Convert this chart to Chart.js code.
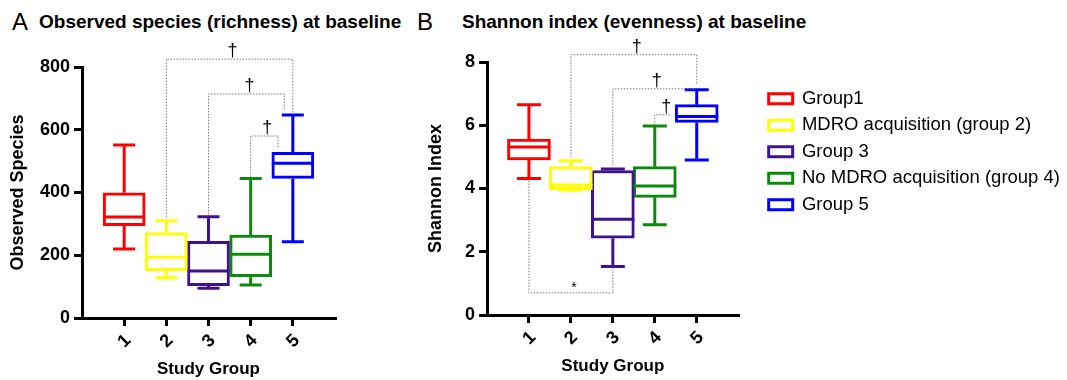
<!DOCTYPE html>
<html>
<head>
<meta charset="utf-8">
<script src="https://cdn.jsdelivr.net/npm/chart.js@4"></script>
<style>
body { margin: 0; background: #fff; width: 1067px; height: 380px; overflow: hidden; position: relative;
       font-family: "Liberation Sans", Arial, Helvetica, sans-serif; color: #000; }
.panel { position: absolute; top: 0; }
.letter { position: absolute; font-size: 24px; line-height: 24px; top: 10px; }
.title { position: absolute; font-size: 19px; line-height: 19px; top: 12px; font-weight: bold; white-space: nowrap; }
</style>
</head>
<body>
<div class="letter" style="left:12px">A</div>
<div class="title" style="left:39px">Observed species (richness) at baseline</div>
<div class="letter" style="left:417px">B</div>
<div class="title" style="left:462px">Shannon index (evenness) at baseline</div>
<canvas id="chartA" class="panel" style="left:0" width="400" height="380"></canvas>
<canvas id="chartB" class="panel" style="left:400px" width="670" height="380"></canvas>
<script>
Chart.defaults.font.family = "'Liberation Sans', Arial, Helvetica, sans-serif";
Chart.defaults.color = '#000';

// study groups
var groups = ['1', '2', '3', '4', '5'];
var groupNames = ['Group1', 'MDRO acquisition (group 2)', 'Group 3', 'No MDRO acquisition (group 4)', 'Group 5'];
var groupColors = ['#ff0000', '#ffff00', '#40128f', '#0c8a0c', '#0000ff'];

// A: observed species (min, q1, median, q3, max)
var obsMin = [220, 128, 95, 105, 243];
var obsQ1 = [294, 151, 103, 132, 445];
var obsMed = [322, 194, 150, 203, 493];
var obsQ3 = [399, 272, 244, 264, 528];
var obsMax = [551, 310, 323, 445, 647];

// B: shannon index
var shMin = [4.32, 3.95, 1.53, 2.85, 4.90];
var shQ1 = [4.90, 3.96, 2.43, 3.72, 6.09];
var shMed = [5.31, 4.11, 3.03, 4.08, 6.28];
var shQ3 = [5.56, 4.69, 4.57, 4.69, 6.65];
var shMax = [6.65, 4.88, 4.62, 5.98, 7.12];

// significance brackets: x1/x2 groups, y bar level, y1/y2 leg ends
var obsBrackets = [
    { x1: 2, x2: 5, y: 825, y1: 322, y2: 656, label: '\u2020' },
    { x1: 3, x2: 4.8, y: 714, y1: 330, y2: 663, label: '\u2020' },
    { x1: 4, x2: 4.65, y: 580, y1: 450, y2: 545, label: '\u2020' }
];
var shBrackets = [
    { x1: 2, x2: 5, y: 8.23, y1: 5.0, y2: 7.3, label: '\u2020' },
    { x1: 3, x2: 4.95, y: 7.15, y1: 4.75, y2: 7.12, label: '\u2020' },
    { x1: 4, x2: 4.4, y: 6.33, y1: 6.0, y2: 6.33, label: '\u2020' },
    { x1: 1, x2: 3, y: 0.7, y1: 4.25, y2: 1.45, label: '*' }
];

// whiskers, medians and brackets on top of the floating bars
var boxPlot = {
    id: 'boxPlot',
    afterDatasetsDraw: function (chart, args, opts) {
        var ctx = chart.ctx;
        var xs = chart.scales.x, ys = chart.scales.y;
        ctx.save();
        ctx.lineWidth = 3;
        for (var i = 0; i < groups.length; i++) {
            var cx = xs.getPixelForValue(i + 1);
            var hw = opts.boxWidth / 2, cw = opts.capWidth / 2;
            var yMin = ys.getPixelForValue(opts.min[i]), yQ1 = ys.getPixelForValue(opts.q1[i]);
            var yMed = ys.getPixelForValue(opts.med[i]), yQ3 = ys.getPixelForValue(opts.q3[i]);
            var yMax = ys.getPixelForValue(opts.max[i]);
            ctx.strokeStyle = groupColors[i];
            ctx.beginPath();
            ctx.moveTo(cx, yQ3); ctx.lineTo(cx, yMax);
            ctx.moveTo(cx - cw, yMax); ctx.lineTo(cx + cw, yMax);
            ctx.moveTo(cx, yQ1); ctx.lineTo(cx, yMin);
            ctx.moveTo(cx - cw, yMin); ctx.lineTo(cx + cw, yMin);
            ctx.moveTo(cx - hw, yMed); ctx.lineTo(cx + hw, yMed);
            ctx.stroke();
        }
        ctx.strokeStyle = '#777';
        ctx.lineWidth = 1;
        ctx.setLineDash([1.5, 1.5]);
        ctx.fillStyle = '#000';
        ctx.textAlign = 'center';
        ctx.textBaseline = 'bottom';
        opts.brackets.forEach(function (b) {
            var x1 = xs.getPixelForValue(b.x1), x2 = xs.getPixelForValue(b.x2);
            var yy = ys.getPixelForValue(b.y);
            ctx.beginPath();
            ctx.moveTo(x1, ys.getPixelForValue(b.y1));
            ctx.lineTo(x1, yy);
            ctx.lineTo(x2, yy);
            ctx.lineTo(x2, ys.getPixelForValue(b.y2));
            ctx.stroke();
            ctx.font = (b.label == '*' ? '14px' : '18px') + " 'Liberation Sans', Arial, sans-serif";
            ctx.fillText(b.label, (x1 + x2) / 2 + 3, yy + (b.label == '*' ? 2 : 1));
        });
        ctx.restore();
    }
};

function boxDatasets(q1, q3, width) {
    var sets = [];
    for (var i = 0; i < groups.length; i++) {
        sets.push({
            label: groupNames[i],
            data: [{ x: i + 1, y: [q1[i], q3[i]] }],
            backgroundColor: '#fff',
            borderColor: groupColors[i],
            borderWidth: 3,
            borderSkipped: false,
            barThickness: width,
            grouped: false,
            yAxisID: 'y'
        });
    }
    return sets;
}

function xAxis(height, titlePad) {
    return {
        type: 'linear', min: 0, max: 6, offset: false,
        afterFit: function (s) { s.height = height; },
        border: { display: true, width: 3, color: '#000' },
        grid: {
            offset: false, drawOnChartArea: false, drawTicks: true, tickLength: 8, lineWidth: 3,
            color: function (c) { return (c.tick && c.tick.value >= 1 && c.tick.value <= 5) ? '#000' : 'rgba(0,0,0,0)'; }
        },
        ticks: {
            stepSize: 1, autoSkip: false, minRotation: 45, maxRotation: 45, padding: 4, labelOffset: 4,
            font: { size: 18, weight: 'bold' },
            callback: function (v) { return (v >= 1 && v <= 5) ? groups[v - 1] : ''; }
        },
        title: { display: true, text: 'Study Group', font: { size: 17, weight: 'bold' }, padding: { top: 0, bottom: titlePad } }
    };
}

function yAxis(max, step, width, title, titlePad) {
    return {
        min: 0, max: max,
        afterFit: function (s) { s.width = width; },
        border: { display: true, width: 3, color: '#000' },
        grid: { drawOnChartArea: false, drawTicks: true, tickLength: 8, lineWidth: 3, color: '#000' },
        ticks: { stepSize: step, padding: 4, font: { size: 18, weight: 'bold' } },
        title: { display: true, text: title, font: { size: 18, weight: 'bold' }, padding: { top: titlePad, bottom: 0 } }
    };
}

new Chart(document.getElementById('chartA'), {
    type: 'bar',
    data: { datasets: boxDatasets(obsQ1, obsQ3, 42) },
    options: {
        responsive: false, animation: false,
        layout: { padding: { left: 0, top: 67, right: 65, bottom: 0 } },
        scales: {
            x: xAxis(62, 0),
            y: yAxis(800, 200, 82, 'Observed Species', 7)
        },
        plugins: {
            legend: { display: false },
            tooltip: { enabled: false },
            boxPlot: { min: obsMin, q1: obsQ1, med: obsMed, q3: obsQ3, max: obsMax, boxWidth: 42, capWidth: 22, brackets: obsBrackets }
        }
    },
    plugins: [boxPlot]
});

var yB = yAxis(8, 2, 87, 'Shannon Index', 25);
new Chart(document.getElementById('chartB'), {
    type: 'bar',
    data: { datasets: boxDatasets(shQ1, shQ3, 43) },
    options: {
        responsive: false, animation: false,
        layout: { padding: { left: 0, top: 62, right: 0, bottom: 0 } },
        scales: {
            x: xAxis(65, 3),
            y: yB,
            // empty gap between plot and legend
            y2: {
                position: 'right', display: true,
                afterFit: function (s) { s.width = 22; },
                border: { display: false }, grid: { display: false }, ticks: { display: false }
            }
        },
        plugins: {
            legend: {
                display: true, position: 'right', align: 'start', maxWidth: 340,
                title: { display: true, text: ' ', font: { size: 10, lineHeight: 1 }, padding: { top: 0, bottom: 9.5 } },
                labels: { boxWidth: 24, boxHeight: 10, padding: 8, color: '#000', font: { size: 18.5 } }
            },
            tooltip: { enabled: false },
            boxPlot: { min: shMin, q1: shQ1, med: shMed, q3: shQ3, max: shMax, boxWidth: 43, capWidth: 24, brackets: shBrackets }
        }
    },
    plugins: [boxPlot]
});
</script>
</body>
</html>
